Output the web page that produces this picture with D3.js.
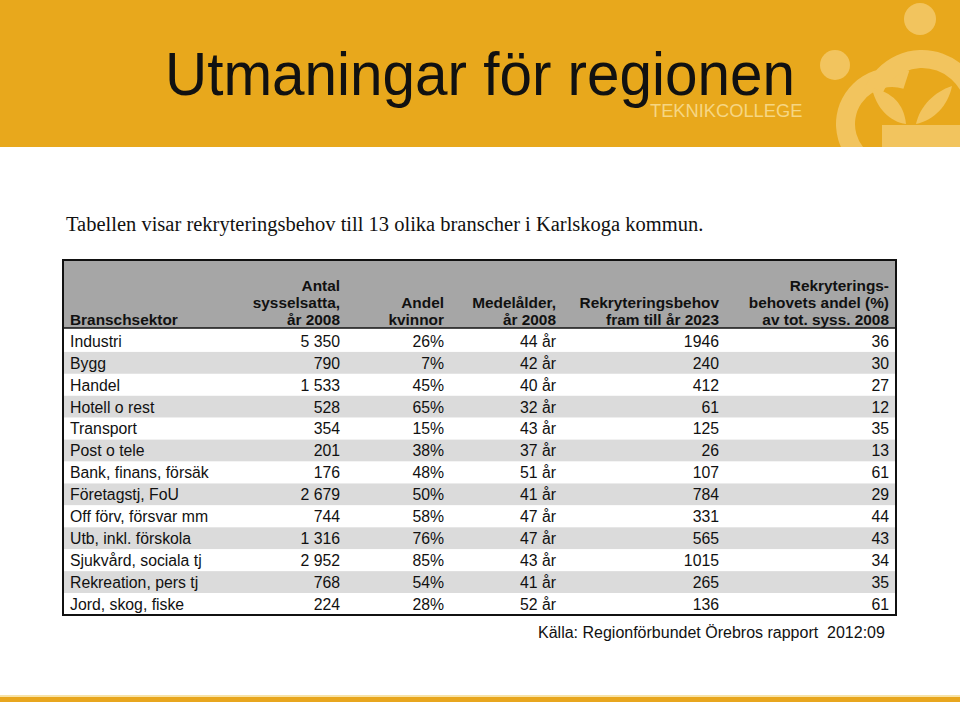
<!DOCTYPE html>
<html>
<head>
<meta charset="utf-8">
<script src="https://cdn.jsdelivr.net/npm/d3@7/dist/d3.min.js"></script>
<style>
html,body{margin:0;padding:0;background:#fff;}
svg{display:block;}
text{white-space:pre;}
</style>
</head>
<body>
<script>
// ---- Data ----
const sectors = ["Industri","Bygg","Handel","Hotell o rest","Transport","Post o tele","Bank, finans, försäk","Företagstj, FoU","Off förv, försvar mm","Utb, inkl. förskola","Sjukvård, sociala tj","Rekreation, pers tj","Jord, skog, fiske"];
const employed2008 = [5350,790,1533,528,354,201,176,2679,744,1316,2952,768,224];
const womenShare = [26,7,45,65,15,38,48,50,58,76,85,54,28];
const meanAge = [44,42,40,32,43,37,51,41,47,47,43,41,52];
const recruitNeed = [1946,240,412,61,125,26,107,784,331,565,1015,265,136];
const recruitShare = [36,30,27,12,35,13,61,29,44,43,34,35,61];
const columnHeaders = [
  ["Branschsektor"],
  ["Antal","sysselsatta,","år 2008"],
  ["Andel","kvinnor"],
  ["Medelålder,","år 2008"],
  ["Rekryteringsbehov","fram till år 2023"],
  ["Rekryterings-","behovets andel (%)","av tot. syss. 2008"]
];
const titleText = "Utmaningar för regionen";
const subtitleText = "Tabellen visar rekryteringsbehov till 13 olika branscher i Karlskoga kommun.";
const sourceText = "Källa: Regionförbundet Örebros rapport  2012:09";

// ---- Drawing ----
const W = 960, H = 702;
const svg = d3.select("body").append("svg").attr("width", W).attr("height", H);

const gold = "#E8A81C", logoCol = "#F2C45E";
// header band
svg.append("rect").attr("x",0).attr("y",0).attr("width",W).attr("height",147).attr("fill",gold);
// logo
svg.append("clipPath").attr("id","hdrclip").append("rect").attr("x",0).attr("y",0).attr("width",W).attr("height",147);
const lg = svg.append("g").attr("clip-path","url(#hdrclip)");
lg.append("circle").attr("cx",920).attr("cy",19).attr("r",16).attr("fill",logoCol);
lg.append("circle").attr("cx",835).attr("cy",65).attr("r",15).attr("fill",logoCol);
const arcGen = d3.arc();
lg.append("path").attr("transform","translate(892,124)")
  .attr("d",arcGen({innerRadius:37,outerRadius:56,startAngle:-Math.PI,endAngle:Math.PI*0.1})).attr("fill",logoCol);
lg.append("path").attr("transform","translate(922,112)")
  .attr("d",arcGen({innerRadius:44,outerRadius:62,startAngle:-Math.PI*0.38,endAngle:Math.PI*0.6})).attr("fill",logoCol);
lg.append("path").attr("d","M872,88 C892,92 904,104 906,124 C890,122 876,108 872,88 Z").attr("fill",logoCol);
lg.append("path").attr("d","M952,86 C934,92 920,106 916,124 C934,120 948,106 952,86 Z").attr("fill",logoCol);
lg.append("rect").attr("x",882).attr("y",125).attr("width",78).attr("height",22).attr("fill",logoCol);

svg.append("text").attr("x",165).attr("y",95).attr("font-family","Liberation Sans, Arial, sans-serif")
  .attr("font-size",62).attr("textLength",630).attr("lengthAdjust","spacingAndGlyphs")
  .attr("fill","#111").text(titleText);
svg.append("text").attr("x",650).attr("y",117).attr("font-family","Liberation Sans, Arial, sans-serif")
  .attr("font-size",18.3).attr("fill","#F6D683").text("TEKNIKCOLLEGE");

// bottom strip
svg.append("rect").attr("x",0).attr("y",695).attr("width",W).attr("height",2).attr("fill","#F7E3A8");
svg.append("rect").attr("x",0).attr("y",697).attr("width",W).attr("height",5).attr("fill","#E8A61E");

// subtitle
svg.append("text").attr("x",66).attr("y",231).attr("font-family","Liberation Serif, Times New Roman, serif")
  .attr("font-size",20.5).attr("fill","#111").text(subtitleText);

// table
const tL = 63, tR = 896, tT = 260, tHB = 328, tB = 615;
const yRow = d3.scaleBand().domain(sectors).range([330, tB]).paddingInner(0).paddingOuter(0);
const colRight = [null, 340, 444, 556, 719, 889];
const colLeft = 70;
const font = "Liberation Sans, Arial, sans-serif";

svg.append("rect").attr("x",tL).attr("y",tT).attr("width",tR-tL).attr("height",tHB-tT).attr("fill","#A6A6A6");
svg.selectAll("rect.row").data(sectors).join("rect").attr("class","row")
  .attr("x",tL).attr("width",tR-tL).attr("y",d=>yRow(d)).attr("height",yRow.bandwidth())
  .attr("fill",(d,i)=> i%2 ? "#DBDBDB" : "#FFFFFF");

// header text
columnHeaders.forEach((lines,ci)=>{
  const n = lines.length;
  lines.forEach((ln,li)=>{
    const by = 325 - (n-1-li)*17;
    svg.append("text").attr("x", ci===0 ? colLeft : colRight[ci]).attr("y",by)
      .attr("text-anchor", ci===0 ? "start" : "end")
      .attr("font-family",font).attr("font-weight","bold").attr("font-size",15.4).attr("fill","#111").text(ln);
  });
});

const fmtThousands = d3.formatLocale({decimal:",",thousands:" ",grouping:[3],currency:["",""]}).format(",d");
const columns = [
  sectors.map(d=>d),
  employed2008.map(fmtThousands),
  womenShare.map(v=>v+"%"),
  meanAge.map(v=>v+" år"),
  recruitNeed.map(v=>String(v)),
  recruitShare.map(v=>String(v))
];
columns.forEach((vals,ci)=>{
  svg.selectAll("text.c"+ci).data(vals).join("text").attr("class","c"+ci)
    .attr("x", ci===0 ? colLeft : colRight[ci])
    .attr("y",(d,i)=> yRow(sectors[i]) + yRow.bandwidth()/2 + 5.8)
    .attr("text-anchor", ci===0 ? "start" : "end")
    .attr("font-family",font).attr("font-size",15.8).attr("fill","#111").text(d=>d);
});

// borders
svg.append("line").attr("x1",tL).attr("x2",tR).attr("y1",tHB).attr("y2",tHB).attr("stroke","#111").attr("stroke-width",1.5);
svg.append("rect").attr("x",tL).attr("y",tT).attr("width",tR-tL).attr("height",tB-tT)
  .attr("fill","none").attr("stroke","#111").attr("stroke-width",2);

// source
svg.append("text").attr("x",538).attr("y",638).attr("font-family",font).attr("font-size",16).attr("fill","#111").text(sourceText);
</script>
</body>
</html>
